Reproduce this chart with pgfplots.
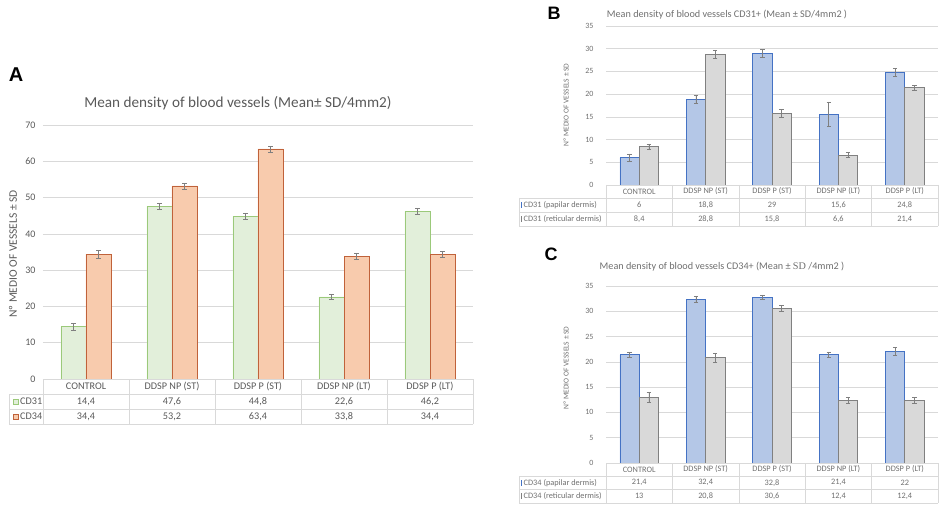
\documentclass[border=0pt]{standalone}
\usepackage{pgfplots}
\pgfplotsset{compat=1.18}
\usepackage{pgfplotstable}
\usepackage{fontspec}
\setmainfont{Carlito}
\newfontfamily\arialfont{Liberation Sans}
\newfontfamily\timesfont{Liberation Serif}

\definecolor{txt}{HTML}{595959}
\definecolor{txtl}{HTML}{6F6F6F}
\definecolor{gridc}{HTML}{D9D9D9}
\definecolor{greenF}{HTML}{E2EFDA}
\definecolor{greenD}{HTML}{9BC97A}
\definecolor{orangeF}{HTML}{F8CBAD}
\definecolor{orangeD}{HTML}{C0623A}
\definecolor{blueF}{HTML}{B4C7E7}
\definecolor{blueD}{HTML}{4472C4}
\definecolor{grayF}{HTML}{D9D9D9}
\definecolor{grayD}{HTML}{808080}
\definecolor{errc}{HTML}{7F7F7F}

% panel A: CD31 / CD34
\pgfplotstableread{
x  cd31 e31  cd34 e34
0  14.4 0.90 34.4 1.15
1  47.6 0.75 53.2 0.80
2  44.8 0.75 63.4 0.80
3  22.6 0.65 33.8 0.85
4  46.2 0.75 34.4 0.85
}\dataA

% panel B: CD31 papilar / reticular
\pgfplotstableread{
x  pap  ep   ret  er
0  6.0  0.85 8.4  0.60
1  18.8 0.90 28.8 0.90
2  29.0 0.80 15.8 0.90
3  15.6 2.70 6.6  0.60
4  24.8 0.90 21.4 0.50
}\dataB

% panel C: CD34 papilar / reticular
\pgfplotstableread{
x  pap  ep   ret  er
0  21.4 0.56 13.0 1.00
1  32.4 0.56 20.8 0.92
2  32.8 0.46 30.6 0.60
3  21.4 0.56 12.4 0.50
4  22.0 0.79 12.4 0.50
}\dataC

\pgfplotsset{
  excel/.style={
    scale only axis,
    anchor=south west,
    ybar, xmin=-0.5, xmax=4.5, ymin=0,
    xtick=\empty,
    ymajorgrids, grid style={gridc, line width=0.6pt},
    axis line style={draw=none},
    major tick length=0pt,
    clip=false,
    /pgf/number format/assume math mode=true,
    error bars/y dir=both, error bars/y explicit,
    error bars/error bar style={errc, line width=0.6pt},
    error bars/error mark options={errc, rotate=90, mark size=2.2pt, line width=0.6pt},
  },
}

\begin{document}
\begin{tikzpicture}[x=1pt, y=1pt]
\useasboundingbox (0,0) rectangle (941,506);

% ================= Panel A =================
\begin{axis}[excel,
  at={(43pt,127pt)}, width=430pt, height=254pt,
  ymax=70, ytick={0,10,...,70},
  bar width=25pt,
  yticklabel style={font=\fontsize{10}{11}\selectfont, text=txt, xshift=-4pt},
]
\addplot[fill=greenF, draw=greenD, line width=0.8pt, bar shift=-12.5pt]
  table[x=x, y=cd31, y error=e31] {\dataA};
\addplot[fill=orangeF, draw=orangeD, line width=0.8pt, bar shift=12.5pt]
  table[x=x, y=cd34, y error=e34] {\dataA};
\end{axis}

\node[font=\arialfont\bfseries\fontsize{20}{20}\selectfont] at (16,431) {A};
\node[text=txt, font=\fontsize{15.2}{16}\selectfont] at (238,403) {Mean density of blood vessels (Mean± SD/4mm2)};
\node[text=txt, rotate=90, font=\fontsize{11.5}{12}\selectfont] at (13,252) {Nº MEDIO OF VESSELS ± SD};

% data table A
\begin{scope}[gridc, line width=0.6pt]
\draw (43,127) -- (473,127);
\draw (9,112) -- (473,112);
\draw (9,97) -- (473,97);
\draw (9,82) -- (473,82);
\draw (9,112) -- (9,82);
\foreach \x in {43,129,215,301,387,473} \draw (\x,127) -- (\x,82);
\end{scope}
\begin{scope}[every node/.style={text=txt, font=\fontsize{10.2}{11}\selectfont, inner sep=0pt}]
\foreach \n [count=\i from 0] in {CONTROL,DDSP NP (ST),DDSP P (ST),DDSP NP (LT),DDSP P (LT)}
  \node at (86+86*\i,119.5) {\n};
\node at (86,104.5) {14,4}; \node at (172,104.5) {47,6}; \node at (258,104.5) {44,8};
\node at (344,104.5) {22,6}; \node at (430,104.5) {46,2};
\node at (86,89.5) {34,4}; \node at (172,89.5) {53,2}; \node at (258,89.5) {63,4};
\node at (344,89.5) {33,8}; \node at (430,89.5) {34,4};
\node[anchor=west] at (20,104.5) {CD31};
\node[anchor=west] at (20,89.5) {CD34};
\end{scope}
\draw[fill=greenF, draw=greenD, line width=0.6pt] (13,101.5) rectangle (18.5,107);
\draw[fill=orangeF, draw=orangeD, line width=0.6pt] (13,86.5) rectangle (18.5,92);

% ================= Panel B =================
\begin{axis}[excel,
  at={(606pt,321pt)}, width=332pt, height=159pt,
  ymax=35, ytick={0,5,...,35},
  bar width=19.3pt,
  yticklabel style={font=\fontsize{8}{9}\selectfont, text=txtl, xshift=-9pt},
]
\addplot[fill=blueF, draw=blueD, line width=0.8pt, bar shift=-9.65pt]
  table[x=x, y=pap, y error=ep] {\dataB};
\addplot[fill=grayF, draw=grayD, line width=0.8pt, bar shift=9.65pt]
  table[x=x, y=ret, y error=er] {\dataB};
\end{axis}

\node[font=\arialfont\bfseries\fontsize{18}{18}\selectfont] at (554,492.5) {B};
\node[text=txtl, font=\fontsize{10.2}{11}\selectfont] at (727,491) {Mean density of blood vessels CD31+ (Mean ± SD/4mm2 )};
\node[text=txtl, rotate=90, font=\fontsize{7.5}{8}\selectfont] at (566,401) {Nº MEDIO OF VESSELS ± SD};

\begin{scope}[gridc, line width=0.6pt]
\draw (606,321) -- (938,321);
\draw (519,308) -- (938,308);
\draw (519,294) -- (938,294);
\draw (519,280) -- (938,280);
\draw (519,308) -- (519,280);
\foreach \x in {606,672.4,738.8,805.2,871.6,938} \draw (\x,321) -- (\x,280);
\end{scope}
\begin{scope}[every node/.style={text=txtl, font=\fontsize{8.3}{9}\selectfont, inner sep=0pt}]
\foreach \n [count=\i from 0] in {CONTROL,DDSP NP (ST),DDSP P (ST),DDSP NP (LT),DDSP P (LT)}
  \node at (639.2+66.4*\i,314.5) {\n};
\node at (639.2,301) {6};    \node at (705.6,301) {18,8}; \node at (772,301) {29};
\node at (838.4,301) {15,6}; \node at (904.8,301) {24,8};
\node at (639.2,287) {8,4};  \node at (705.6,287) {28,8}; \node at (772,287) {15,8};
\node at (838.4,287) {6,6};  \node at (904.8,287) {21,4};
\node[anchor=west] at (523.5,301) {CD31 (papilar dermis)};
\node[anchor=west] at (523.5,287) {CD31 (reticular dermis)};
\end{scope}
\fill[blueD] (520.5,298) rectangle (522.3,304);
\fill[grayD] (520.5,284) rectangle (522.3,290);

% ================= Panel C =================
\begin{axis}[excel,
  at={(606pt,43pt)}, width=332pt, height=177pt,
  ymax=35, ytick={0,5,...,35},
  bar width=19.3pt,
  yticklabel style={font=\fontsize{8}{9}\selectfont, text=txtl, xshift=-9pt},
]
\addplot[fill=blueF, draw=blueD, line width=0.8pt, bar shift=-9.65pt]
  table[x=x, y=pap, y error=ep] {\dataC};
\addplot[fill=grayF, draw=grayD, line width=0.8pt, bar shift=9.65pt]
  table[x=x, y=ret, y error=er] {\dataC};
\end{axis}

\node[font=\arialfont\bfseries\fontsize{18}{18}\selectfont] at (551,252) {C};
\node[text=txtl, font=\fontsize{10.2}{11}\selectfont] at (722,239) {Mean density of blood vessels CD34+ (Mean ± {\timesfont SD} /4mm2 )};
\node[text=txtl, rotate=90, font=\fontsize{7.5}{8}\selectfont] at (566,138) {Nº MEDIO OF VESSELS ± SD};

\begin{scope}[gridc, line width=0.6pt]
\draw (606,43) -- (938,43);
\draw (519,30) -- (938,30);
\draw (519,16.5) -- (938,16.5);
\draw (519,3) -- (938,3);
\draw (519,30) -- (519,3);
\foreach \x in {606,672.4,738.8,805.2,871.6,938} \draw (\x,43) -- (\x,3);
\end{scope}
\begin{scope}[every node/.style={text=txtl, font=\fontsize{8.3}{9}\selectfont, inner sep=0pt}]
\foreach \n [count=\i from 0] in {CONTROL,DDSP NP (ST),DDSP P (ST),DDSP NP (LT),DDSP P (LT)}
  \node at (639.2+66.4*\i,36.5) {\n};
\node at (639.2,23.2) {21,4}; \node at (705.6,23.2) {32,4}; \node at (772,23.2) {32,8};
\node at (838.4,23.2) {21,4}; \node at (904.8,23.2) {22};
\node at (639.2,9.7) {13};    \node at (705.6,9.7) {20,8};  \node at (772,9.7) {30,6};
\node at (838.4,9.7) {12,4};  \node at (904.8,9.7) {12,4};
\node[anchor=west] at (523.5,23.2) {CD34 (papilar dermis)};
\node[anchor=west] at (523.5,9.7) {CD34 (reticular dermis)};
\end{scope}
\fill[blueD] (520.5,20.2) rectangle (522.3,26.2);
\fill[grayD] (520.5,6.7) rectangle (522.3,12.7);

\end{tikzpicture}
\end{document}
